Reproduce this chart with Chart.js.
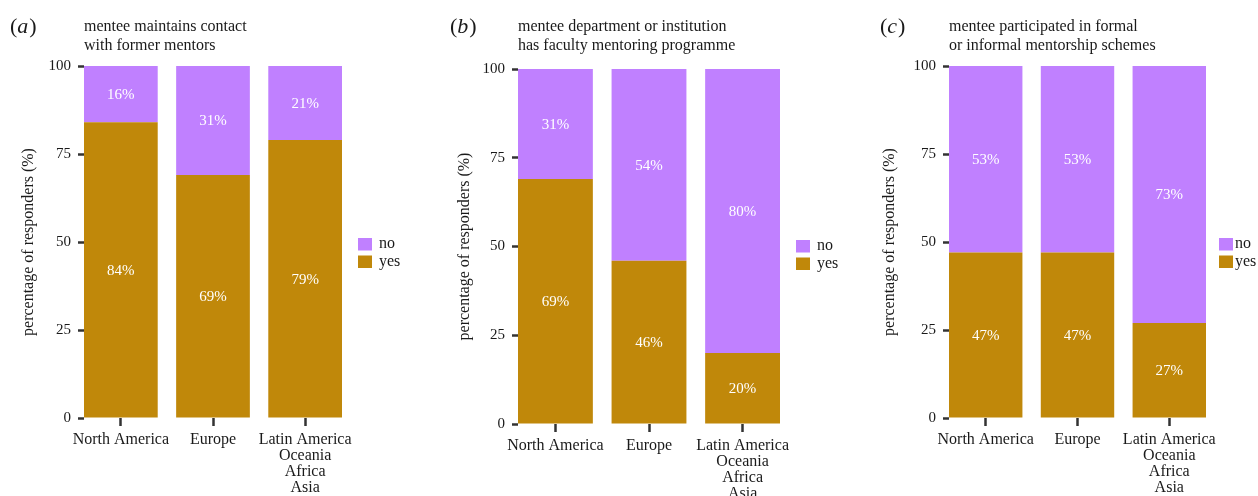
<!DOCTYPE html>
<html>
<head>
<meta charset="utf-8">
<script src="https://cdn.jsdelivr.net/npm/chart.js@4.4.1/dist/chart.umd.min.js"></script>
<style>
  body { margin: 0; background: #fff; width: 1258px; height: 496px; overflow: hidden; position: relative; }
  canvas { position: absolute; top: 0; }
</style>
</head>
<body>
<canvas id="panelA" width="420" height="496" style="left:0px"></canvas>
<canvas id="panelB" width="420" height="496" style="left:420px"></canvas>
<canvas id="panelC" width="418" height="496" style="left:840px"></canvas>
<script>
// categories (multi-line labels) and series
const categories = [
  ['North America'],
  ['Europe'],
  ['Latin America', 'Oceania', 'Africa', 'Asia']
];
const seriesNames = ['yes', 'no'];
const yTicks = [0, 25, 50, 75, 100];
const yTitle = 'percentage of responders (%)';

// (a) mentee maintains contact with former mentors
const titleA = ['mentee maintains contact', 'with former mentors'];
const yesA = [84, 69, 79];
const noA = [16, 31, 21];

// (b) department / institution has faculty mentoring programme
const titleB = ['mentee department or institution', 'has faculty mentoring programme'];
const yesB = [69, 46, 20];
const noB = [31, 54, 80];

// (c) participated in formal or informal mentorship schemes
const titleC = ['mentee participated in formal', 'or informal mentorship schemes'];
const yesC = [47, 47, 27];
const noC = [53, 53, 73];

const colYes = '#c0880a';
const colNo = '#c080ff';
const FONT = '"Liberation Serif", "DejaVu Serif", serif';
const INK = '#1a1a1a';

// draws panel letter, title, value labels and the legend
const decorPlugin = {
  id: 'decor',
  afterDatasetsDraw(chart) {
    const ctx = chart.ctx;
    ctx.save();
    ctx.fillStyle = '#ffffff';
    ctx.font = '15px ' + FONT;
    ctx.textAlign = 'center';
    ctx.textBaseline = 'middle';
    chart.data.datasets.forEach((ds, i) => {
      const meta = chart.getDatasetMeta(i);
      meta.data.forEach((bar, j) => {
        const p = bar.getProps(['x', 'y', 'base'], true);
        ctx.fillText(ds.data[j].y + '%', p.x, (p.y + p.base) / 2 + 1);
      });
    });
    ctx.restore();
  },
  afterDraw(chart, args, opts) {
    const ctx = chart.ctx;
    const area = chart.chartArea;
    ctx.save();
    ctx.fillStyle = INK;
    ctx.textBaseline = 'alphabetic';
    ctx.textAlign = 'left';

    // panel letter "(a)" with italic letter
    let x = opts.letterX;
    ctx.font = '22px ' + FONT;
    ctx.fillText('(', x, 33);
    x += ctx.measureText('(').width;
    ctx.font = 'italic 22px ' + FONT;
    ctx.fillText(opts.letter, x, 33);
    x += ctx.measureText(opts.letter).width + 1;
    ctx.font = '22px ' + FONT;
    ctx.fillText(')', x, 33);

    // title
    ctx.font = '16px ' + FONT;
    opts.title.forEach((line, k) => ctx.fillText(line, area.left, 31 + k * 18.5));

    // legend (top entry = last dataset)
    const lx = area.right + opts.legendDx;
    const dsets = chart.data.datasets.slice().reverse();
    dsets.forEach((ds, k) => {
      const ty = opts.legendTop + k * 17.5;
      ctx.fillStyle = ds.backgroundColor;
      ctx.fillRect(lx, ty, 14, 12.5);
      ctx.fillStyle = INK;
      ctx.font = '16px ' + FONT;
      ctx.textBaseline = 'middle';
      ctx.fillText(ds.label, lx + opts.textDx, ty + 6);
    });
    ctx.restore();
  }
};

function makePanel(id, letter, title, yes, no, box) {
  const canvas = document.getElementById(id);
  const H = canvas.height;
  const W = canvas.width;
  new Chart(canvas, {
    type: 'bar',
    data: {
      datasets: [
        { label: seriesNames[0], data: yes.map((v, i) => ({ x: i + 1, y: v })), backgroundColor: colYes },
        { label: seriesNames[1], data: no.map((v, i) => ({ x: i + 1, y: v })), backgroundColor: colNo }
      ]
    },
    options: {
      responsive: false,
      animation: false,
      devicePixelRatio: 1,
      barPercentage: 0.8,
      categoryPercentage: 1,
      layout: { padding: { left: 0, top: box.top, right: W - box.right, bottom: 0 } },
      plugins: {
        legend: { display: false },
        tooltip: { enabled: false },
        decor: {
          letter: letter, letterX: box.letterX, title: title,
          legendTop: box.legendTop, legendDx: box.legendDx, textDx: box.textDx
        }
      },
      scales: {
        x: {
          type: 'linear',
          stacked: true,
          min: 0.6,
          max: categories.length + 0.4,
          offset: false,
          afterBuildTicks: s => { s.ticks = categories.map((c, i) => ({ value: i + 1 })); },
          afterFit: s => { s.height = H - box.bottom; },
          grid: { offset: false, drawOnChartArea: false, drawTicks: true, tickLength: 8, tickWidth: 2.5, tickColor: '#333' },
          border: { display: false },
          ticks: {
            autoSkip: false, maxRotation: 0, minRotation: 0, padding: 6,
            color: INK, font: { family: FONT, size: 16, lineHeight: 1.0 },
            callback: v => categories[v - 1]
          }
        },
        y: {
          stacked: true,
          min: 0,
          max: 100,
          afterBuildTicks: s => { s.ticks = yTicks.map(v => ({ value: v })); },
          afterFit: s => { s.width = box.left; },
          grid: { drawOnChartArea: false, drawTicks: true, tickLength: 6, tickWidth: 2.5, tickColor: '#333' },
          border: { display: false },
          ticks: { padding: 7, color: INK, font: { family: FONT, size: 15 } },
          title: {
            display: true, text: yTitle, color: INK,
            font: { family: FONT, size: 16 }, padding: { top: box.yTitlePad, bottom: 0 }
          }
        }
      }
    },
    plugins: [decorPlugin]
  });
}

makePanel('panelA', 'a', titleA, yesA, noA,
  { left: 84, right: 342, top: 66, bottom: 418, letterX: 10, legendTop: 238, legendDx: 16, textDx: 21, yTitlePad: 19 });
makePanel('panelB', 'b', titleB, yesB, noB,
  { left: 98, right: 360, top: 69, bottom: 424, letterX: 30, legendTop: 240, legendDx: 16, textDx: 21, yTitlePad: 35 });
makePanel('panelC', 'c', titleC, yesC, noC,
  { left: 109, right: 366, top: 66, bottom: 418, letterX: 40, legendTop: 238, legendDx: 13, textDx: 16, yTitlePad: 40 });
</script>
</body>
</html>
